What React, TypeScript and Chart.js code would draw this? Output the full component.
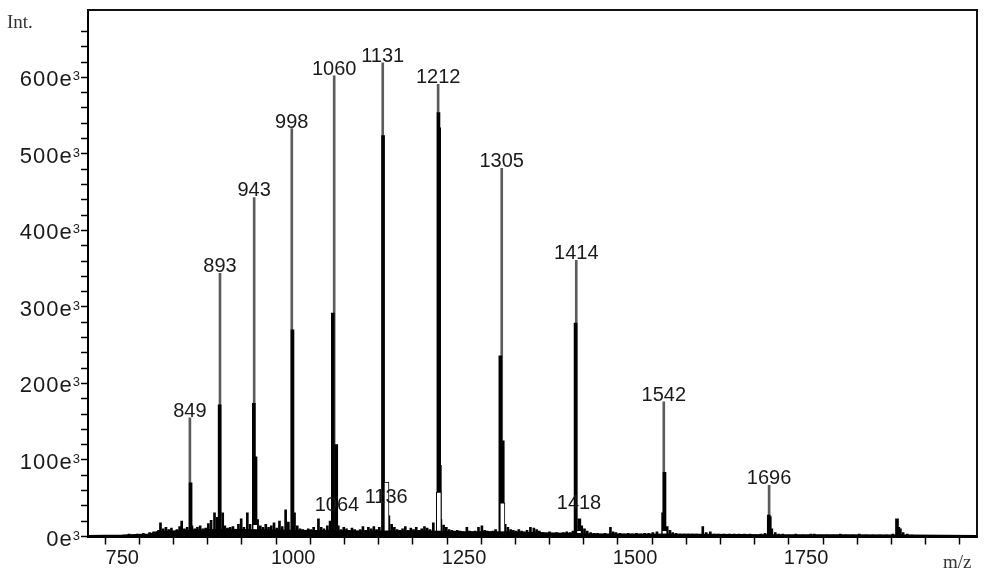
import React, { useEffect, useRef } from 'react';
import { Chart, registerables } from 'chart.js';

Chart.register(...registerables);

// ---- data (intensities in thousands, i.e. "e3") ----
const xTickLabels = [750, 1000, 1250, 1500, 1750];
const yTickLabels = [0, 100, 200, 300, 400, 500, 600];

// labelled main peaks (grey sticks)
const peakMz = [849, 893, 943, 998, 1060, 1131, 1212, 1305, 1414, 1542, 1696];
const peakInt = [155, 344, 443, 533, 602, 619, 591, 481, 361, 176, 67];

// isotope / cluster sticks (black)
const isoMz = [850, 892.5, 942.5, 945, 999, 1058, 1063, 1131.5, 1212.5, 1213.5, 1214.5, 1303, 1306.5, 1413, 1418.5, 1541, 1543, 1695.5, 1697, 1883, 1885];
const isoInt = [70, 172, 174, 104, 270, 292, 120, 524, 554, 534, 93, 236, 125, 279, 23, 31, 84, 28, 26, 23, 12];

// hollow (white) sticks
const hollowMz = [850, 894, 944.5, 999.5, 1062, 1136.5, 1213, 1306, 1418, 1543];
const hollowInt = [6, 6, 16, 8, 8, 71, 58, 44, 8, 8];

// small noise sticks
const noiseMz = [760, 772, 781, 790, 796, 803, 806, 810, 814, 818, 822, 826, 830, 834, 837, 841, 845, 852, 856, 860, 864, 868, 872, 876, 880, 885, 889, 897, 900, 904, 908, 912, 916, 920, 924, 928, 933, 937, 948, 952, 956, 960, 964, 968, 972, 976, 980, 984, 989, 993, 1002, 1006, 1010, 1014, 1018, 1022, 1026, 1030, 1033, 1037, 1041, 1045, 1050, 1054, 1066, 1070, 1074, 1078, 1082, 1086, 1090, 1094, 1098, 1102, 1106, 1110, 1114, 1118, 1122, 1126, 1140, 1144, 1148, 1152, 1156, 1160, 1164, 1168, 1172, 1176, 1180, 1184, 1188, 1192, 1196, 1200, 1205, 1216, 1220, 1224, 1228, 1232, 1236, 1240, 1244, 1248, 1254, 1258, 1262, 1266, 1271, 1276, 1280, 1284, 1288, 1292, 1296, 1310, 1314, 1318, 1322, 1326, 1330, 1334, 1338, 1342, 1347, 1352, 1356, 1360, 1365, 1370, 1375, 1380, 1385, 1390, 1395, 1400, 1405, 1409, 1422, 1426, 1430, 1435, 1440, 1445, 1450, 1456, 1464, 1468, 1472, 1478, 1484, 1490, 1496, 1502, 1508, 1514, 1520, 1526, 1532, 1547, 1551, 1555, 1560, 1566, 1572, 1578, 1584, 1590, 1599, 1604, 1610, 1616, 1622, 1630, 1638, 1645, 1652, 1660, 1668, 1676, 1684, 1690, 1700, 1705, 1710, 1716, 1725, 1735, 1745, 1757, 1762, 1770, 1780, 1790, 1800, 1808, 1818, 1828, 1838, 1848, 1858, 1868, 1877, 1888, 1892, 1898, 1905];
const noiseInt = [3, 3, 4, 5, 6, 8, 18, 10, 12, 9, 11, 7, 9, 13, 20, 10, 12, 14, 10, 12, 14, 10, 11, 17, 21, 31, 25, 31, 14, 11, 12, 13, 9, 16, 23, 12, 31, 16, 22, 14, 12, 16, 12, 14, 18, 11, 20, 13, 35, 19, 31, 14, 10, 9, 8, 10, 9, 12, 8, 23, 12, 10, 14, 20, 14, 9, 12, 10, 8, 11, 9, 7, 9, 13, 8, 12, 10, 13, 9, 12, 27, 16, 12, 9, 8, 10, 13, 8, 11, 9, 12, 8, 10, 13, 11, 9, 18, 22, 15, 12, 9, 8, 7, 8, 7, 6, 12, 7, 6, 7, 12, 14, 8, 7, 6, 7, 9, 16, 12, 9, 8, 7, 9, 7, 6, 8, 12, 11, 9, 7, 5, 4, 6, 4, 5, 4, 5, 6, 5, 7, 14, 10, 7, 5, 4, 4, 3, 4, 12, 6, 5, 4, 3, 4, 3, 4, 3, 4, 4, 5, 6, 13, 8, 5, 4, 3, 3, 3, 3, 3, 13, 5, 6, 3, 3, 3, 3, 3, 3, 3, 3, 2, 3, 4, 10, 5, 3, 3, 2, 3, 2, 3, 3, 2, 2, 2, 3, 2, 2, 3, 2, 2, 2, 2, 3, 10, 5, 3, 2];

// continuous baseline (filled)
const baseMz = [700, 750, 790, 800, 850, 900, 1000, 1100, 1200, 1250, 1300, 1350, 1400, 1450, 1500, 1600, 1700, 1800, 1900, 2000];
const baseInt = [1, 1.5, 3, 6, 8, 9, 8, 7, 7, 6, 6, 5, 4, 3, 3, 2.5, 2, 2, 1.5, 1];

// small labels near the baseline
const minorLabelMz = [1064, 1136, 1418];
const minorLabelInt = [33, 44, 36];

const pts = (xs: number[], ys: number[]) => xs.map((x, i) => ({ x, y: ys[i] }));

const SANS = '"Liberation Sans", Arial, Helvetica, sans-serif';
const SERIF = '"Liberation Serif", "Times New Roman", serif';

const decor = {
  id: 'decor',
  afterDatasetsDraw(chart: any) {
    const { ctx, chartArea: a, scales } = chart;
    ctx.save();
    ctx.strokeStyle = '#111';
    ctx.lineWidth = 2;
    ctx.beginPath();
    ctx.moveTo(a.left, a.top);
    ctx.lineTo(a.right, a.top);
    ctx.lineTo(a.right, a.bottom);
    ctx.stroke();

    // peak labels
    ctx.font = `20px ${SANS}`;
    ctx.fillStyle = '#1a1a1a';
    ctx.textAlign = 'center';
    ctx.textBaseline = 'alphabetic';
    peakMz.forEach((m, i) => {
      ctx.fillText(String(m), scales.x.getPixelForValue(m), scales.y.getPixelForValue(peakInt[i]) - 1);
    });
    minorLabelMz.forEach((m, i) => {
      ctx.fillText(String(m), scales.x.getPixelForValue(m), scales.y.getPixelForValue(minorLabelInt[i]));
    });

    // y tick labels with superscript exponent
    const right = a.left - 8;
    ctx.textAlign = 'left';
    yTickLabels.forEach((n) => {
      const y = scales.y.getPixelForValue(n);
      ctx.font = `13px ${SANS}`;
      const wSup = ctx.measureText('3').width;
      ctx.font = `22px ${SANS}`;
      (ctx as any).letterSpacing = '1px';
      const main = `${n}e`;
      const wMain = ctx.measureText(main).width;
      ctx.fillText(main, right - wSup - wMain, y + 9);
      (ctx as any).letterSpacing = '0px';
      ctx.font = `13px ${SANS}`;
      ctx.fillText('3', right - wSup, y + 3);
    });

    // axis titles
    ctx.font = `19px ${SERIF}`;
    ctx.fillStyle = '#333';
    ctx.textAlign = 'left';
    ctx.fillText('Int.', 7, 28);
    ctx.fillText('m/z', 943, 568);
    ctx.restore();
  },
};

export default function App() {
  const ref = useRef<HTMLCanvasElement | null>(null);

  useEffect(() => {
    if (!ref.current) return;
    const chart = new Chart(ref.current, {
      type: 'bar',
      data: {
        datasets: [
          {
            type: 'line',
            data: pts(baseMz, baseInt),
            borderColor: '#000',
            backgroundColor: '#000',
            fill: 'origin',
            borderWidth: 1.5,
            pointRadius: 0,
            tension: 0,
            order: 0,
          } as any,
          {
            data: pts(hollowMz, hollowInt),
            backgroundColor: '#fff',
            borderColor: '#000',
            borderWidth: 1,
            barThickness: 5,
            order: 1,
          },
          {
            data: pts(noiseMz, noiseInt),
            backgroundColor: '#000',
            barThickness: 2,
            order: 2,
          },
          {
            data: pts(isoMz, isoInt),
            backgroundColor: '#000',
            barThickness: 3,
            order: 3,
          },
          {
            data: pts(peakMz, peakInt),
            backgroundColor: '#5c5c5c',
            barThickness: 2,
            order: 4,
          },
        ],
      },
      options: {
        responsive: true,
        maintainAspectRatio: false,
        animation: false,
        datasets: { bar: { grouped: false } } as any,
        layout: { padding: { top: 10, right: 12, left: 0, bottom: 0 } },
        plugins: { legend: { display: false }, tooltip: { enabled: false } },
        scales: {
          x: {
            type: 'linear',
            min: 700,
            max: 2000,
            offset: false,
            afterFit: (s: any) => { s.height = 44.5; },
            border: { display: true, color: '#000', width: 2 },
            grid: { drawOnChartArea: false, drawTicks: true, tickLength: 8, tickWidth: 1.5, tickColor: '#000' },
            ticks: {
              stepSize: 50,
              autoSkip: false,
              maxRotation: 0,
              padding: 2,
              color: '#1a1a1a',
              font: { family: SANS, size: 20 },
              callback: (v: any) => {
                const n = Math.round(Number(v));
                if (n <= 700 || n >= 2000) return null;
                return xTickLabels.includes(n) ? String(n) : '';
              },
            },
          },
          y: {
            type: 'linear',
            min: 0,
            max: 688,
            afterFit: (s: any) => { s.width = 88; },
            border: { display: true, color: '#000', width: 2 },
            grid: { drawOnChartArea: false, drawTicks: true, tickLength: 7, tickWidth: 1.5, tickColor: '#000' },
            ticks: {
              stepSize: 20,
              autoSkip: false,
              padding: 1,
              callback: (v: any) => {
                const n = Math.round(Number(v));
                if (n % 20 !== 0 || n > 680) return null;
                return '';
              },
            },
          },
        },
      },
      plugins: [decor],
    });
    return () => chart.destroy();
  }, []);

  return (
    <div style={{ position: 'fixed', left: 0, top: 0, width: 989, height: 581, background: '#fff' }}>
      <canvas ref={ref} />
    </div>
  );
}
